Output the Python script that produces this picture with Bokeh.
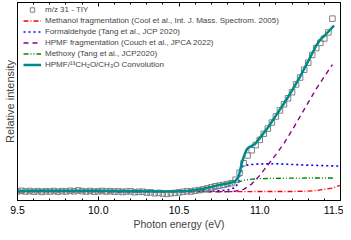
from bokeh.plotting import figure
from bokeh.models import (FixedTicker, PrintfTickFormatter, LinearAxis, Range1d,
                          Legend, LegendItem)
from bokeh.embed import file_html
from bokeh.resources import INLINE

# ---- data ----
tiy_x = [9.5, 9.525, 9.55, 9.575, 9.6, 9.625, 9.65, 9.675, 9.7, 9.725, 9.75, 9.775, 9.8,
         9.825, 9.85, 9.875, 9.9, 9.925, 9.95, 9.975, 10.0,
         10.025, 10.05, 10.075, 10.1, 10.125, 10.15, 10.175, 10.2, 10.225, 10.25, 10.275,
         10.3, 10.325, 10.35, 10.375, 10.4, 10.425, 10.45, 10.475, 10.5,
         10.525, 10.55, 10.575, 10.6, 10.625, 10.65, 10.675, 10.7, 10.725, 10.75, 10.775, 10.8,
         10.825, 10.85, 10.875, 10.9, 10.925, 10.95, 10.975, 11.0, 11.025, 11.05, 11.075, 11.1,
         11.125, 11.15, 11.175, 11.2, 11.225, 11.25, 11.275, 11.3, 11.325, 11.35, 11.375, 11.4,
         11.425, 11.45]
tiy_y = [0.003, 0.006, 0.002, 0.005, 0.001, 0.004, 0.000, 0.003, 0.002, 0.005, 0.001, 0.004,
         0.002, 0.006, 0.003, 0.008, 0.004, 0.002, 0.005, 0.001, 0.003,
         0.005, 0.002, 0.004, 0.001, 0.003, -0.001, 0.002, 0.003, -0.002, 0.000, 0.001, -0.004,
         -0.003, -0.008, -0.006, -0.010, -0.012, -0.008, -0.006, -0.003,
         0.000, 0.004, 0.002, 0.007, 0.010, 0.014, 0.020, 0.026, 0.032, 0.036, 0.040, 0.045,
         0.05, 0.07, 0.11, 0.165, 0.21, 0.24, 0.27, 0.3, 0.335, 0.365, 0.40, 0.435, 0.47, 0.505,
         0.54, 0.575, 0.62, 0.66, 0.705, 0.745, 0.79, 0.83, 0.86, 0.885, 0.92, 1.0]

meth_x = [9.5, 10.0, 10.5, 10.8, 11.0, 11.2, 11.3, 11.35, 11.4, 11.45, 11.5]
meth_y = [0.002, 0.002, 0.001, 0.001, 0.002, 0.002, 0.004, 0.008, 0.014, 0.022, 0.038]

form_x = [9.5, 10.0, 10.5, 10.7, 10.8, 10.85, 10.87, 10.88, 10.89, 10.9, 10.95, 11.0, 11.1,
          11.2, 11.3, 11.4, 11.5]
form_y = [0.0, 0.001, 0.002, 0.004, 0.01, 0.025, 0.06, 0.11, 0.14, 0.152, 0.158, 0.161, 0.162,
          0.158, 0.154, 0.151, 0.149]

hpmf_x = [9.5, 10.0, 10.5, 10.8, 10.85, 10.9, 10.95, 11.0, 11.05, 11.1, 11.15, 11.2, 11.25,
          11.3, 11.35, 11.4, 11.45]
hpmf_y = [0.002, 0.001, 0.0, 0.001, 0.004, 0.014, 0.045, 0.095, 0.155, 0.215, 0.28, 0.355,
          0.435, 0.515, 0.595, 0.665, 0.735]

methoxy_x = [9.5, 10.0, 10.5, 10.6, 10.65, 10.7, 10.75, 10.8, 10.85, 10.88, 10.9, 10.95, 11.0,
             11.1, 11.2, 11.3, 11.4, 11.46]
methoxy_y = [0.001, 0.001, 0.002, 0.004, 0.007, 0.012, 0.02, 0.032, 0.048, 0.06, 0.066, 0.073,
             0.076, 0.078, 0.079, 0.08, 0.08, 0.08]

conv_x = [9.5, 9.6, 9.7, 9.8, 9.9, 10.0, 10.1, 10.2, 10.3, 10.4, 10.5, 10.55, 10.6, 10.65, 10.7,
          10.75, 10.8, 10.83, 10.85, 10.86, 10.87, 10.88, 10.89, 10.9, 10.91, 10.92, 10.93,
          10.95, 10.97, 11.0, 11.05, 11.1, 11.15, 11.2, 11.25, 11.3, 11.35, 11.38, 11.4, 11.43,
          11.46]
conv_y = [0.005, 0.006, 0.007, 0.006, 0.007, 0.006, 0.005, 0.004, 0.003, 0.002, 0.003, 0.005,
          0.01, 0.018, 0.028, 0.04, 0.048, 0.055, 0.065, 0.075, 0.09, 0.13, 0.17, 0.2, 0.225,
          0.245, 0.255, 0.265, 0.275, 0.31, 0.37, 0.44, 0.51, 0.585, 0.665, 0.755, 0.845, 0.885,
          0.9, 0.93, 0.96]

x_ticks = [9.5, 10.0, 10.5, 11.0, 11.5]
x_minor = [9.6, 9.7, 9.8, 9.9, 10.1, 10.2, 10.3, 10.4, 10.6, 10.7, 10.8, 10.9,
           11.1, 11.2, 11.3, 11.4]

labels = ["m/z 31 - TIY",
          "Methanol fragmentation (Cool et al., Int. J. Mass. Spectrom. 2005)",
          "Formaldehyde (Tang et al., JCP 2020)",
          "HPMF fragmentation (Couch et al., JPCA 2022)",
          "Methoxy (Tang et al., JCP2020)",
          "HPMF/\u00b9\u00b3CH\u2082O/CH\u2083O Convolution"]

FONT = "Liberation Sans"

p = figure(width=343, height=232, output_backend="svg", toolbar_location=None,
           x_range=Range1d(9.5, 11.5), y_range=Range1d(-0.05, 1.093),
           min_border_left=16, min_border_right=3, min_border_top=2, min_border_bottom=29)
p.xgrid.visible = False
p.ygrid.visible = False
p.outline_line_color = "black"
p.outline_line_width = 1
p.background_fill_color = "white"

r_meth = p.line(meth_x, meth_y, line_color="#ff0000", line_width=1.3, line_dash="5 2 1 2")
r_form = p.line(form_x, form_y, line_color="#0000ff", line_width=1.6, line_dash="2 3")
r_hpmf = p.line(hpmf_x, hpmf_y, line_color="#8b008b", line_width=1.4, line_dash="5 4")
r_methoxy = p.line(methoxy_x, methoxy_y, line_color="#008000", line_width=1.3,
                   line_dash="5 2 1 2 1 2")
r_tiy = p.scatter(tiy_x, tiy_y, marker="square", size=5.5, line_color="#808080",
                  fill_color=None, line_width=1)
r_conv = p.line(conv_x, conv_y, line_color="#008b8b", line_width=2.5)

# x axis (bottom)
xa = p.xaxis[0]
xa.ticker = FixedTicker(ticks=x_ticks, minor_ticks=x_minor)
xa.formatter = PrintfTickFormatter(format="%.1f")
xa.major_tick_in = 4
xa.major_tick_out = 0
xa.minor_tick_in = 2
xa.minor_tick_out = 0
xa.major_label_standoff = 5
xa.major_label_text_font = FONT
xa.major_label_text_font_size = "10.5px"
xa.major_label_text_color = "black"
xa.axis_label = "Photon energy (eV)"
xa.axis_label_text_font = FONT
xa.axis_label_text_font_size = "10.5px"
xa.axis_label_text_font_style = "normal"
xa.axis_label_standoff = 1

# top axis (ticks only)
ta = LinearAxis(ticker=FixedTicker(ticks=x_ticks, minor_ticks=x_minor),
                major_tick_in=4, major_tick_out=0, minor_tick_in=2, minor_tick_out=0,
                major_label_overrides={t: "" for t in x_ticks}, major_label_standoff=0)
p.add_layout(ta, "above")

# y axis (label only)
ya = p.yaxis[0]
ya.ticker = FixedTicker(ticks=[])
ya.major_tick_in = 0
ya.major_tick_out = 0
ya.minor_tick_in = 0
ya.minor_tick_out = 0
ya.major_label_standoff = 0
ya.axis_label = "Relative intensity"
ya.axis_label_text_font = FONT
ya.axis_label_text_font_size = "11px"
ya.axis_label_text_font_style = "normal"
ya.axis_label_standoff = 2

legend = Legend(items=[LegendItem(label=labels[0], renderers=[r_tiy]),
                       LegendItem(label=labels[1], renderers=[r_meth]),
                       LegendItem(label=labels[2], renderers=[r_form]),
                       LegendItem(label=labels[3], renderers=[r_hpmf]),
                       LegendItem(label=labels[4], renderers=[r_methoxy]),
                       LegendItem(label=labels[5], renderers=[r_conv])],
                location=(6, 130), margin=0, padding=0, spacing=0,
                glyph_width=18, glyph_height=11, label_height=11, label_standoff=4,
                label_text_font=FONT, label_text_font_size="8px",
                background_fill_alpha=0, border_line_alpha=0)
p.add_layout(legend)

open("out.html", "w").write(file_html(p, INLINE))
